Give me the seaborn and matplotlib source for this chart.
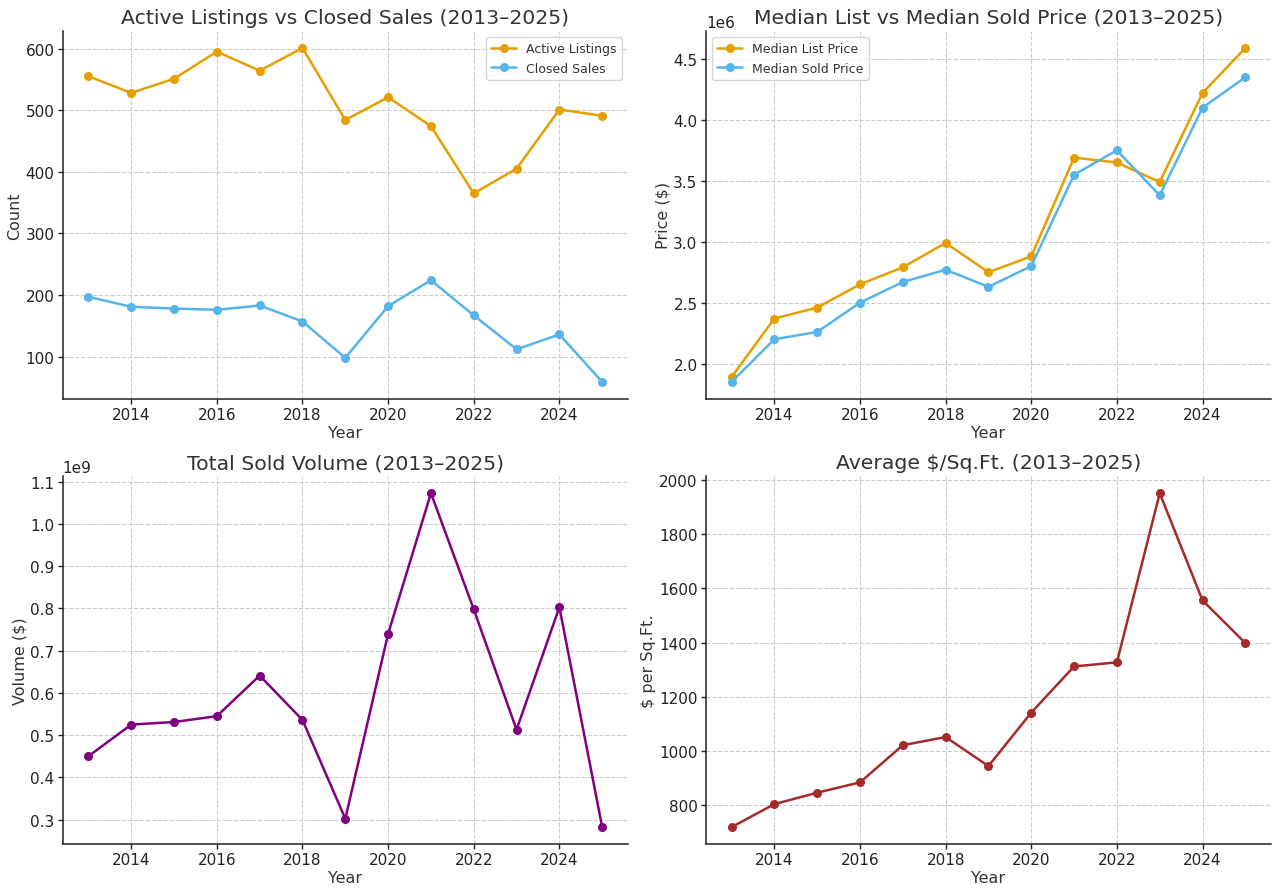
import seaborn as sns
import pandas as pd
import matplotlib.pyplot as plt

years = list(range(2013, 2026))

active_listings = [555, 528, 551, 595, 564, 601, 484, 521, 474, 365, 405, 501, 491]
closed_sales = [197, 181, 178, 176, 183, 157, 98, 182, 224, 167, 112, 136, 59]

median_list = [1.89e6, 2.37e6, 2.46e6, 2.65e6, 2.79e6, 2.99e6, 2.75e6, 2.88e6,
               3.69e6, 3.65e6, 3.49e6, 4.22e6, 4.59e6]
median_sold = [1.85e6, 2.20e6, 2.26e6, 2.50e6, 2.67e6, 2.77e6, 2.63e6, 2.80e6,
               3.55e6, 3.75e6, 3.38e6, 4.10e6, 4.35e6]

sold_volume = [0.450e9, 0.525e9, 0.531e9, 0.545e9, 0.641e9, 0.536e9, 0.302e9,
               0.740e9, 1.073e9, 0.798e9, 0.513e9, 0.803e9, 0.282e9]

price_sqft = [720, 805, 847, 885, 1022, 1052, 945, 1142, 1312, 1327, 1950, 1555, 1398]

orange = "#E69F00"
blue = "#56B4E9"

#style
sns.set_style("whitegrid", {"grid.linestyle": "--", "grid.color": "#cccccc",
                            "axes.edgecolor": "#222222", "text.color": "#333333",
                            "axes.labelcolor": "#333333", "xtick.color": "#222222",
                            "ytick.color": "#222222",
                            "xtick.bottom": True, "ytick.left": True})
plt.rcParams['font.family'] = ['DejaVu Sans']
plt.rcParams['grid.linewidth'] = 0.8

fig, axes = plt.subplots(2, 2, figsize=(12.8, 8.95), dpi=100)
fig.subplots_adjust(left=0.049, right=0.993, top=0.964, bottom=0.056,
                    wspace=0.138, hspace=0.212)

line = dict(marker='o', markersize=6.5, markeredgewidth=0, linewidth=1.8)

ax = axes[0, 0]
sns.lineplot(x=years, y=active_listings, color=orange, label="Active Listings", ax=ax, **line)
sns.lineplot(x=years, y=closed_sales, color=blue, label="Closed Sales", ax=ax, **line)
ax.set_title("Active Listings vs Closed Sales (2013–2025)", fontsize=14.7)
ax.set_ylabel("Count")
ax.legend(loc="upper right", fontsize=9)

ax = axes[0, 1]
sns.lineplot(x=years, y=median_list, color=orange, label="Median List Price", ax=ax, **line)
sns.lineplot(x=years, y=median_sold, color=blue, label="Median Sold Price", ax=ax, **line)
ax.set_title("Median List vs Median Sold Price (2013–2025)", fontsize=14.7)
ax.set_ylabel("Price ($)")
ax.legend(loc="upper left", fontsize=9)

ax = axes[1, 0]
sns.lineplot(x=years, y=sold_volume, color="purple", ax=ax, **line)
ax.set_title("Total Sold Volume (2013–2025)", fontsize=14.7)
ax.set_ylabel("Volume ($)")

ax = axes[1, 1]
sns.lineplot(x=years, y=price_sqft, color="#A52A2A", ax=ax, **line)
ax.set_title("Average $/Sq.Ft. (2013–2025)", fontsize=14.7)
ax.set_ylabel("$ per Sq.Ft.")

for ax in axes.flat:
    ax.set_xlabel("Year", fontsize=11.5, labelpad=2)
    ax.yaxis.label.set_size(11.5)
    ax.yaxis.labelpad = 2
    ax.tick_params(labelsize=11, length=3.5, width=1, pad=2.5)
    ax.set_xticks([2014, 2016, 2018, 2020, 2022, 2024])
    ax.yaxis.get_offset_text().set_fontsize(11)
    sns.despine(ax=ax)
    for s in ["left", "bottom"]:
        ax.spines[s].set_linewidth(1.1)

plt.savefig("out.png", dpi=100)
